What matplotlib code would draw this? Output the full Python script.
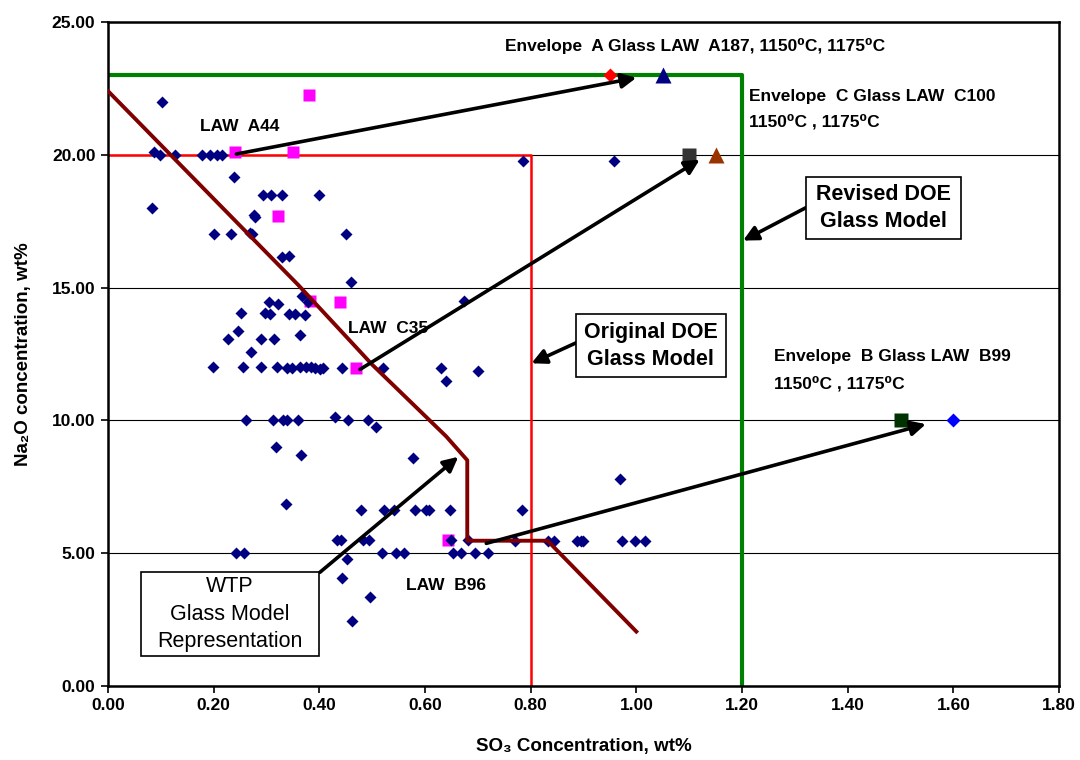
import matplotlib
matplotlib.use("Agg")
import matplotlib.pyplot as plt
from matplotlib.patches import Rectangle
from matplotlib.ticker import FormatStrFormatter

plt.rcParams["font.family"] = ["Liberation Sans", "DejaVu Sans"]

# glass composition data points (SO3 wt%, Na2O wt%)
glass_so3 = [
    0.103, 0.088, 0.098, 0.127, 0.177, 0.193, 0.206, 0.215, 0.238,
    0.294, 0.308, 0.329, 0.40, 0.084, 0.276, 0.279,
    0.201, 0.233, 0.269, 0.272, 0.45, 0.329, 0.342, 0.785, 0.957,
    0.46, 0.368, 0.379, 0.305, 0.321, 0.674,
    0.252, 0.298, 0.307, 0.343, 0.353, 0.372, 0.247, 0.228, 0.289, 0.315, 0.363, 0.271,
    0.199, 0.255, 0.29, 0.32, 0.338, 0.348, 0.363, 0.374, 0.385, 0.392, 0.401, 0.406,
    0.443, 0.521, 0.63, 0.70, 0.639,
    0.262, 0.312, 0.332, 0.338, 0.359, 0.455, 0.493, 0.43, 0.507,
    0.318, 0.365, 0.578, 0.969, 0.337,
    0.479, 0.522, 0.542, 0.581, 0.601, 0.608, 0.647, 0.783,
    0.433, 0.441, 0.483, 0.494, 0.65, 0.682, 0.77, 0.832, 0.845, 0.887, 0.895, 0.899,
    0.972, 0.997, 1.017,
    0.243, 0.258, 0.518, 0.545, 0.561, 0.653, 0.669, 0.694, 0.72,
    0.453, 0.443, 0.496, 0.462,
]
glass_na2o = [
    22.0, 20.1, 20.0, 20.0, 20.0, 20.0, 20.0, 20.0, 19.15,
    18.5, 18.5, 18.5, 18.5, 18.0, 17.75, 17.65,
    17.0, 17.0, 17.05, 17.0, 17.0, 16.15, 16.2, 19.75, 19.75,
    15.2, 14.68, 14.47, 14.45, 14.4, 14.5,
    14.03, 14.03, 14.0, 14.0, 14.0, 13.97, 13.38, 13.07, 13.07, 13.07, 13.2, 12.56,
    12.0, 12.0, 12.0, 12.0, 11.98, 11.98, 12.0, 12.0, 12.0, 11.98, 11.95, 11.98,
    11.96, 11.98, 11.96, 11.87, 11.48,
    10.0, 10.0, 10.0, 10.0, 10.0, 10.0, 10.03, 10.14, 9.76,
    9.0, 8.7, 8.6, 7.8, 6.85,
    6.63, 6.63, 6.63, 6.63, 6.63, 6.63, 6.63, 6.63,
    5.5, 5.5, 5.5, 5.5, 5.5, 5.5, 5.47, 5.47, 5.47, 5.47, 5.47, 5.47,
    5.47, 5.47, 5.47,
    5.0, 5.0, 5.0, 5.0, 5.0, 5.0, 5.0, 5.0, 5.0,
    4.78, 4.05, 3.36, 2.45,
]

# LAW glasses (magenta squares)
law_so3 = [0.24, 0.35, 0.38, 0.322, 0.383, 0.439, 0.469, 0.643]
law_na2o = [20.1, 20.1, 22.25, 17.7, 14.5, 14.47, 11.96, 5.5]

# envelope glasses
env_a_so3 = [0.95, 1.05]
env_a_na2o = [23.0, 23.0]
env_c_so3 = [1.10, 1.15]
env_c_na2o = [20.0, 20.0]
env_b_so3 = [1.50, 1.60]
env_b_na2o = [10.0, 10.0]

# model boundaries
original_x = [0.0, 0.8, 0.8]
original_y = [20.0, 20.0, 0.0]
revised_x = [0.0, 1.2, 1.2]
revised_y = [23.0, 23.0, 0.0]
wtp_x = [0.0, 0.36, 0.50, 0.64, 0.68, 0.68, 0.832, 1.0]
wtp_y = [22.4, 15.1, 12.1, 9.4, 8.5, 5.47, 5.47, 2.05]

x_ticks = [0.0, 0.2, 0.4, 0.6, 0.8, 1.0, 1.2, 1.4, 1.6, 1.8]
y_ticks = [0, 5, 10, 15, 20, 25]

fig = plt.figure(figsize=(10.8, 7.6), dpi=100)
ax = fig.add_axes([108 / 1080, 74 / 760, 951 / 1080, 664 / 760])

ax.set_xlim(0, 1.8)
ax.set_ylim(0, 25)
ax.set_xticks(x_ticks)
ax.set_yticks(y_ticks)
ax.xaxis.set_major_formatter(FormatStrFormatter("%.2f"))
ax.yaxis.set_major_formatter(FormatStrFormatter("%.2f"))
ax.tick_params(direction="out", length=5, width=1.2, labelsize=12.5, pad=4)
for lab in ax.get_xticklabels() + ax.get_yticklabels():
    lab.set_fontweight("bold")
for side in ["left", "bottom", "right", "top"]:
    ax.spines[side].set_linewidth(1.8)
ax.grid(axis="y", color="black", lw=0.8)
ax.set_axisbelow(True)

ax.set_xlabel("SO\u2083 Concentration, wt%", fontsize=13.5, fontweight="bold", labelpad=18)
ax.set_ylabel("Na\u2082O concentration, wt%", fontsize=13.5, fontweight="bold", labelpad=14)

ax.plot(original_x, original_y, color="#FF0000", lw=1.8, zorder=2)
ax.plot(revised_x, revised_y, color="#008000", lw=3, zorder=2)

ax.plot(law_so3, law_na2o, "s", color="#FF00FF", ms=8, mec="none", zorder=3)
ax.plot(glass_so3, glass_na2o, "D", color="#000080", ms=6, mec="none", zorder=4)
ax.plot(wtp_x, wtp_y, color="#800000", lw=2.8, zorder=5)

ax.plot(env_a_so3[0], env_a_na2o[0], "D", color="#FF0000", ms=7, mec="none", zorder=6)
ax.plot(env_a_so3[1], env_a_na2o[1], "^", color="#000080", ms=11, mec="none", zorder=6)
ax.plot(env_c_so3[0], env_c_na2o[0], "s", color="#333333", ms=9.5, mec="none", zorder=6)
ax.plot(env_c_so3[1], env_c_na2o[1], "^", color="#993300", ms=11, mec="none", zorder=6)
ax.plot(env_b_so3[0], env_b_na2o[0], "s", color="#003300", ms=9.5, mec="none", zorder=6)
ax.plot(env_b_so3[1], env_b_na2o[1], "D", color="#0000FF", ms=7, mec="none", zorder=6)


def arrow(x0, y0, x1, y1):
    ax.annotate("", xy=(x1, y1), xytext=(x0, y0),
                arrowprops=dict(arrowstyle="-|>", color="black", lw=2.6,
                                mutation_scale=22, shrinkA=0, shrinkB=0),
                zorder=7)


arrow(0.243, 20.03, 1.0, 22.9)
arrow(0.477, 11.92, 1.12, 19.82)
arrow(0.401, 4.28, 0.663, 8.63)
arrow(0.716, 5.37, 1.548, 9.86)
arrow(0.887, 12.93, 0.8015, 12.15)
arrow(1.322, 18.02, 1.202, 16.77)

# callout boxes
boxes = [
    (0.885, 11.62, 0.284, 2.38, "Original DOE\nGlass Model", "bold", 1.35),
    (1.321, 16.82, 0.293, 2.36, "Revised DOE\nGlass Model", "bold", 1.35),
    (0.0624, 1.13, 0.3366, 3.15, "WTP\nGlass Model\nRepresentation", "normal", 1.42),
]
for bx, by, bw, bh, txt, weight, spacing in boxes:
    ax.add_patch(Rectangle((bx, by), bw, bh, fc="white", ec="black", lw=1.2, zorder=8))
    ax.text(bx + bw / 2, by + bh / 2, txt, ha="center", va="center", fontsize=15.5,
            fontweight=weight, linespacing=spacing, zorder=9)

lbl = dict(fontsize=12.5, fontweight="bold", zorder=9)
ax.text(0.249, 21.06, "LAW  A44", ha="center", va="center", **lbl)
ax.text(0.53, 13.46, "LAW  C35", ha="center", va="center", **lbl)
ax.text(0.64, 3.77, "LAW  B96", ha="center", va="center", **lbl)
ax.text(0.752, 24.1, "Envelope  A Glass LAW  A187, 1150\u2070C, 1175\u2070C", ha="left", va="center", **lbl)
ax.text(1.214, 22.2, "Envelope  C Glass LAW  C100", ha="left", va="center", **lbl)
ax.text(1.214, 21.25, "1150\u2070C , 1175\u2070C", ha="left", va="center", **lbl)
ax.text(1.26, 12.39, "Envelope  B Glass LAW  B99", ha="left", va="center", **lbl)
ax.text(1.26, 11.37, "1150\u2070C , 1175\u2070C", ha="left", va="center", **lbl)

fig.savefig("out.png", dpi=100)
